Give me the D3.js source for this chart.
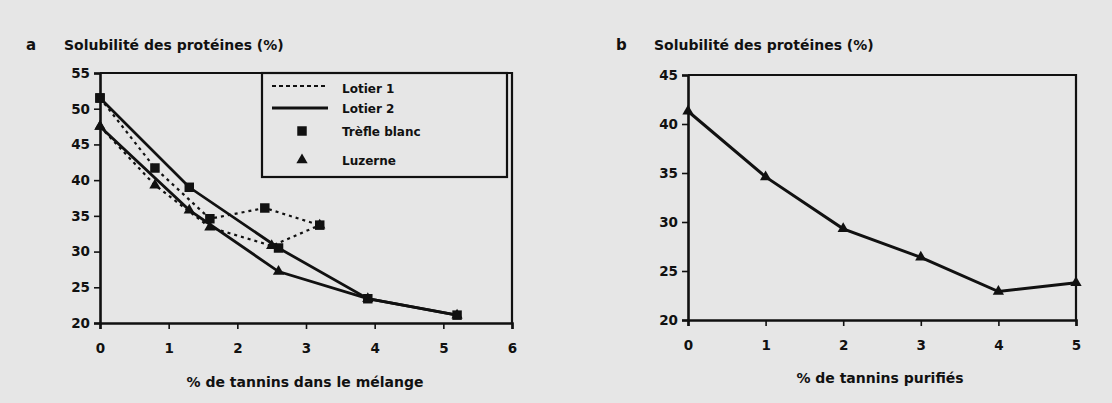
<!DOCTYPE html>
<html>
<head>
<meta charset="utf-8">
<script src="https://cdnjs.cloudflare.com/ajax/libs/d3/7.8.5/d3.min.js"></script>
<style>
body { margin: 0; background: #e6e6e6; }
text { font-family: "DejaVu Sans", sans-serif; font-weight: bold; fill: #111; }
</style>
</head>
<body>
<script>
var width = 1112,
    height = 403;

// panel a : % de tannins dans le mélange
var lotier1Trefle = [[0, 51.5], [0.8, 41.7], [1.6, 34.6], [2.4, 36.1], [3.2, 33.7]];
var lotier1Luzerne = [[0, 47.5], [0.8, 39.3], [1.6, 33.4], [2.5, 30.8], [3.2, 33.7]];
var lotier2Trefle = [[0, 51.5], [1.3, 39.0], [2.6, 30.5], [3.9, 23.4], [5.2, 21.1]];
var lotier2Luzerne = [[0, 47.5], [1.3, 35.8], [2.6, 27.2], [3.9, 23.4], [5.2, 21.1]];
var ticksA_x = [0, 1, 2, 3, 4, 5, 6];
var ticksA_y = [20, 25, 30, 35, 40, 45, 50, 55];
var legendLabels = ['Lotier 1', 'Lotier 2', 'Trèfle blanc', 'Luzerne'];

// panel b : % de tannins purifiés
var tanninsB = [0, 1, 2, 3, 4, 5];
var solubiliteB = [41.3, 34.6, 29.3, 26.4, 22.9, 23.8];
var ticksB_y = [20, 25, 30, 35, 40, 45];

var svg = d3.select('body').append('svg').attr('width', width).attr('height', height);

// ---- panel a
var xa = d3.scaleLinear().domain([0, 6]).range([100, 512]);
var ya = d3.scaleLinear().domain([20, 55]).range([323, 73]);

svg.append('text').attr('x', 26).attr('y', 50).style('font-size', '15px').text('a');
svg.append('text').attr('x', 64).attr('y', 50).style('font-size', '14px').text('Solubilité des protéines (%)');

svg.append('g').attr('transform', 'translate(0,323)')
    .call(d3.axisBottom(xa).tickValues(ticksA_x).tickSize(6).tickPadding(14).tickFormat(d3.format('d')))
    .call(styleAxis);
svg.append('g').attr('transform', 'translate(100,0)')
    .call(d3.axisLeft(ya).tickValues(ticksA_y).tickSize(6).tickPadding(4).tickFormat(d3.format('d')))
    .call(styleAxis);
// frame
svg.append('path').attr('d', 'M100,' + ya(55) + 'H' + xa(6) + 'V' + ya(20))
    .attr('fill', 'none').attr('stroke', '#111').attr('stroke-width', 2.2);

var lineA = d3.line().x(function (d) { return xa(d[0]); }).y(function (d) { return ya(d[1]); });

[[lotier1Trefle, true], [lotier1Luzerne, true], [lotier2Trefle, false], [lotier2Luzerne, false]].forEach(function (s) {
    svg.append('path').datum(s[0]).attr('d', lineA)
        .attr('fill', 'none').attr('stroke', '#111')
        .attr('stroke-width', s[1] ? 2.2 : 2.8)
        .attr('stroke-dasharray', s[1] ? '3,4' : null);
});

var sq = d3.symbol().type(d3.symbolSquare).size(90);
var tri = d3.symbol().type(d3.symbolTriangle).size(55);

svg.selectAll('.sqA').data(lotier1Trefle.concat(lotier2Trefle)).enter().append('path')
    .attr('transform', function (d) { return 'translate(' + xa(d[0]) + ',' + ya(d[1]) + ')'; })
    .attr('d', sq).attr('fill', '#111');
svg.selectAll('.triA').data(lotier1Luzerne.concat(lotier2Luzerne)).enter().append('path')
    .attr('transform', function (d) { return 'translate(' + xa(d[0]) + ',' + ya(d[1]) + ')'; })
    .attr('d', tri).attr('fill', '#111');

svg.append('text').attr('x', 305).attr('y', 387).attr('text-anchor', 'middle')
    .style('font-size', '14px').text('% de tannins dans le mélange');

// legend
var leg = svg.append('g');
leg.append('rect').attr('x', 262).attr('y', 73).attr('width', 245).attr('height', 104)
    .attr('fill', 'none').attr('stroke', '#111').attr('stroke-width', 2.2);
var legY = [88, 108, 131, 160];
leg.append('line').attr('x1', 272).attr('x2', 328).attr('y1', legY[0] - 2).attr('y2', legY[0] - 2)
    .attr('stroke', '#111').attr('stroke-width', 2.2).attr('stroke-dasharray', '4,3');
leg.append('line').attr('x1', 272).attr('x2', 328).attr('y1', legY[1]).attr('y2', legY[1])
    .attr('stroke', '#111').attr('stroke-width', 2.8);
leg.append('path').attr('transform', 'translate(302,' + legY[2] + ')').attr('d', sq).attr('fill', '#111');
leg.append('path').attr('transform', 'translate(302,' + legY[3] + ')').attr('d', tri).attr('fill', '#111');
leg.selectAll('.lt').data(legendLabels).enter().append('text')
    .attr('x', 342).attr('y', function (d, i) { return legY[i] + 5; })
    .style('font-size', '12px').text(function (d) { return d; });

// ---- panel b
var xb = d3.scaleLinear().domain([0, 5]).range([688, 1076]);
var yb = d3.scaleLinear().domain([20, 45]).range([320, 75]);

svg.append('text').attr('x', 616).attr('y', 50).style('font-size', '15px').text('b');
svg.append('text').attr('x', 654).attr('y', 50).style('font-size', '14px').text('Solubilité des protéines (%)');

svg.append('g').attr('transform', 'translate(0,320)')
    .call(d3.axisBottom(xb).tickValues(tanninsB).tickSize(6).tickPadding(14).tickFormat(d3.format('d')))
    .call(styleAxis);
svg.append('g').attr('transform', 'translate(688,0)')
    .call(d3.axisLeft(yb).tickValues(ticksB_y).tickSize(6).tickPadding(4).tickFormat(d3.format('d')))
    .call(styleAxis);
svg.append('path').attr('d', 'M688,' + yb(45) + 'H' + xb(5) + 'V' + yb(20))
    .attr('fill', 'none').attr('stroke', '#111').attr('stroke-width', 2.2);

var lineB = d3.line().x(function (d, i) { return xb(tanninsB[i]); }).y(function (d) { return yb(d); });
svg.append('path').datum(solubiliteB).attr('d', lineB)
    .attr('fill', 'none').attr('stroke', '#111').attr('stroke-width', 3);
svg.selectAll('.triB').data(solubiliteB).enter().append('path')
    .attr('transform', function (d, i) { return 'translate(' + xb(tanninsB[i]) + ',' + yb(d) + ')'; })
    .attr('d', tri).attr('fill', '#111');

svg.append('text').attr('x', 880).attr('y', 383).attr('text-anchor', 'middle')
    .style('font-size', '14px').text('% de tannins purifiés');

function styleAxis(g) {
    g.select('.domain').attr('stroke', '#111').attr('stroke-width', 2.6);
    g.selectAll('.tick line').attr('stroke', '#111').attr('stroke-width', 1.6);
    g.selectAll('.tick text').style('font-size', '13.5px').style('font-family', '"DejaVu Sans", sans-serif')
        .style('font-weight', 'bold').attr('fill', '#111');
}
</script>
</body>
</html>
